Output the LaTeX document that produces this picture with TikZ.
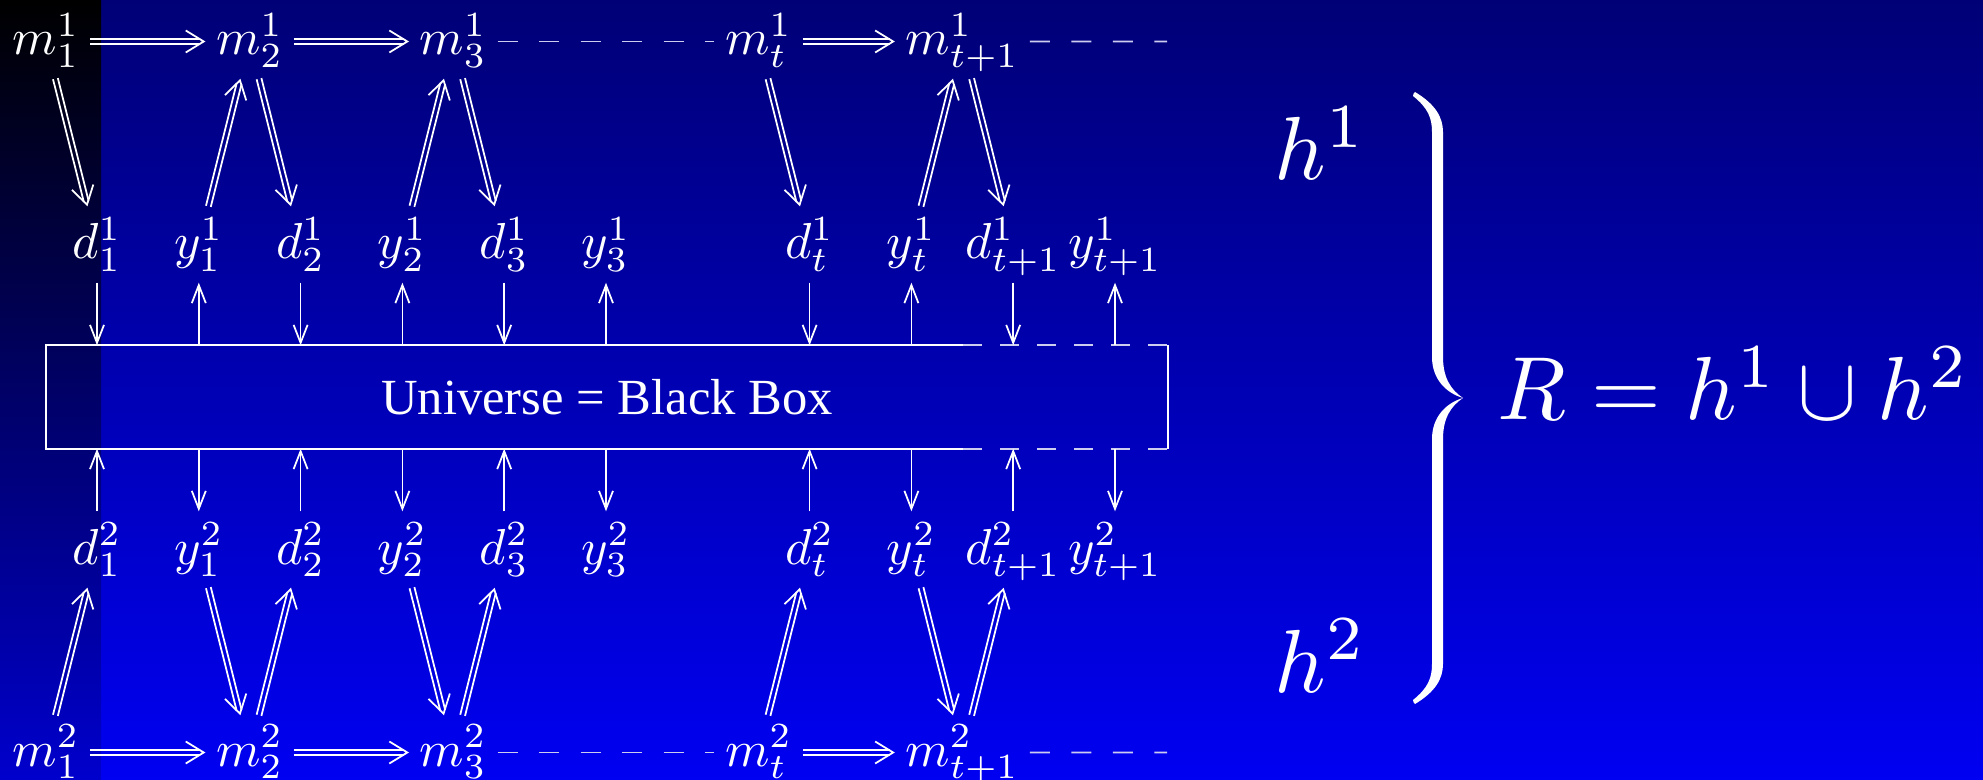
\RequirePackage{fix-cm}
\documentclass[tikz,border=0pt]{standalone}
\usepackage{amsmath}
\usepackage{graphicx}
\usepackage{fontspec}
\newfontfamily\timesfont{Liberation Serif}
\usepackage{tikz}
\usetikzlibrary{arrows.meta, positioning, calc}

\definecolor{bgtop}{RGB}{0,0,118}
\definecolor{bgbot}{RGB}{0,0,242}
\definecolor{stripmid}{RGB}{0,0,92}
\definecolor{stripbot}{RGB}{0,0,205}
\definecolor{dashcol}{RGB}{205,205,240}

% math label at slide scale
\newcommand{\lab}[1]{\scalebox{1.44}{$#1$}}
\newcommand{\biglab}[1]{\scalebox{2.55}{$#1$}}

% double arrow between two named nodes
\newcommand{\dblarrow}[2]{%
  \path (#1) -- coordinate[pos=0] (ds) coordinate[pos=1] (de) (#2);
  \draw[dblline] ($(ds)!0.7pt!90:(de)$) -- ($(de)!0.7pt!-90:(ds)$);
  \draw[dblline] ($(ds)!0.7pt!-90:(de)$) -- ($(de)!0.7pt!90:(ds)$);
  \draw[dbltip] ($(de)!4mm!(ds)$) -- (de);
}

\begin{document}
\begin{tikzpicture}[
  font=\fontsize{10}{12}\selectfont,
  lbl/.style={
    text=white,
    anchor=base,
    inner sep=0.1cm,
    text height=0.42cm,
    text depth=0.13cm
  },
  mlbl/.style={
    text=white,
    anchor=base,
    inner sep=0.1cm,
    text height=0.40cm,
    text depth=0.13cm
  },
  arrow/.style={
    draw=white,
    line width=0.5pt,
    -{Straight Barb[length=1.8mm,width=1.4mm]}
  },
  dblline/.style={
    draw=white,
    line width=0.5pt,
    shorten >=0.5mm
  },
  dbltip/.style={
    draw=white,
    line width=0.5pt,
    dash pattern=on 0pt off 50cm,
    -{Straight Barb[length=1.8mm,width=2.2mm]}
  },
  dashline/.style={
    draw=dashcol,
    line width=0.5pt,
    dash pattern=on 0.2cm off 0.215cm
  },
  boxdash/.style={
    draw=dashcol,
    line width=0.5pt,
    dash pattern=on 0.187cm off 0.183cm
  },
  frame/.style={
    draw=white,
    line width=0.5pt
  },
  big/.style={
    text=white,
    inner sep=0pt
  }
]

% Background and side strip
\shade[top color=bgtop, bottom color=bgbot] (0,0) rectangle (19.83,-7.80);
\shade[top color=black, middle color=stripmid, bottom color=stripbot] (0,0) rectangle (1.01,-7.80);
\useasboundingbox (0,0) rectangle (19.83,-7.80);

% Upper memory chain
\node[mlbl] (m1a) at (0.461,-0.55) {\lab{m_1^1}};
\node[mlbl] (m2a) at (2.497,-0.55) {\lab{m_2^1}};
\node[mlbl] (m3a) at (4.533,-0.55) {\lab{m_3^1}};
\node[mlbl] (mta) at (7.587,-0.55) {\lab{m_t^1}};
\node[mlbl] (mna) at (9.623,-0.55) {\lab{m_{t+1}^1}};
\coordinate (enda) at (11.67,-0.415);

% Upper decisions and outputs
\node[lbl] (d1a) at (0.970,-2.59) {\lab{d_1^1}};
\node[lbl] (y1a) at (1.988,-2.59) {\lab{y_1^1}};
\node[lbl] (d2a) at (3.006,-2.59) {\lab{d_2^1}};
\node[lbl] (y2a) at (4.024,-2.59) {\lab{y_2^1}};
\node[lbl] (d3a) at (5.042,-2.59) {\lab{d_3^1}};
\node[lbl] (y3a) at (6.060,-2.59) {\lab{y_3^1}};
\node[lbl] (dta) at (8.096,-2.59) {\lab{d_t^1}};
\node[lbl] (yta) at (9.114,-2.59) {\lab{y_t^1}};
\node[lbl] (dna) at (10.132,-2.59) {\lab{d_{t+1}^1}};
\node[lbl] (yna) at (11.150,-2.59) {\lab{y_{t+1}^1}};

% Black box
\node[text=white, inner sep=0pt, minimum width=11.20cm, minimum height=1.02cm,
  font=\fontsize{14.4}{17}\selectfont] (box) at (6.07,-3.97)
{\timesfont Universe = Black Box};
\coordinate (cut) at (9.63,-3.97);
\draw[frame] (cut |- box.north) -- (box.north west) -- (box.south west) -- (cut |- box.south);
\draw[frame] (box.north east) -- (box.south east);
\draw[boxdash] (cut |- box.north) -- (box.north east);
\draw[boxdash] (cut |- box.south) -- (box.south east);

% Lower decisions and outputs
\node[lbl] (d1b) at (0.970,-5.64) {\lab{d_1^2}};
\node[lbl] (y1b) at (1.988,-5.64) {\lab{y_1^2}};
\node[lbl] (d2b) at (3.006,-5.64) {\lab{d_2^2}};
\node[lbl] (y2b) at (4.024,-5.64) {\lab{y_2^2}};
\node[lbl] (d3b) at (5.042,-5.64) {\lab{d_3^2}};
\node[lbl] (y3b) at (6.060,-5.64) {\lab{y_3^2}};
\node[lbl] (dtb) at (8.096,-5.64) {\lab{d_t^2}};
\node[lbl] (ytb) at (9.114,-5.64) {\lab{y_t^2}};
\node[lbl] (dnb) at (10.132,-5.64) {\lab{d_{t+1}^2}};
\node[lbl] (ynb) at (11.150,-5.64) {\lab{y_{t+1}^2}};

% Lower memory chain
\node[mlbl] (m1b) at (0.461,-7.66) {\lab{m_1^2}};
\node[mlbl] (m2b) at (2.497,-7.66) {\lab{m_2^2}};
\node[mlbl] (m3b) at (4.533,-7.66) {\lab{m_3^2}};
\node[mlbl] (mtb) at (7.587,-7.66) {\lab{m_t^2}};
\node[mlbl] (mnb) at (9.623,-7.66) {\lab{m_{t+1}^2}};
\coordinate (endb) at (11.67,-7.525);

% Upper single arrows
\draw[arrow] (d1a) -- (d1a |- box.north);
\draw[arrow] (y1a |- box.north) -- (y1a);
\draw[arrow] (d2a) -- (d2a |- box.north);
\draw[arrow] (y2a |- box.north) -- (y2a);
\draw[arrow] (d3a) -- (d3a |- box.north);
\draw[arrow] (y3a |- box.north) -- (y3a);
\draw[arrow] (dta) -- (dta |- box.north);
\draw[arrow] (yta |- box.north) -- (yta);
\draw[arrow] (dna) -- (dna |- box.north);
\draw[arrow] (yna |- box.north) -- (yna);

% Lower single arrows
\draw[arrow] (d1b) -- (d1b |- box.south);
\draw[arrow] (y1b |- box.south) -- (y1b);
\draw[arrow] (d2b) -- (d2b |- box.south);
\draw[arrow] (y2b |- box.south) -- (y2b);
\draw[arrow] (d3b) -- (d3b |- box.south);
\draw[arrow] (y3b |- box.south) -- (y3b);
\draw[arrow] (dtb) -- (dtb |- box.south);
\draw[arrow] (ytb |- box.south) -- (ytb);
\draw[arrow] (dnb) -- (dnb |- box.south);
\draw[arrow] (ynb |- box.south) -- (ynb);

% Upper double arrows
\dblarrow{m1a}{m2a}
\dblarrow{m2a}{m3a}
\dblarrow{mta}{mna}
\dblarrow{m1a}{d1a}
\dblarrow{y1a}{m2a}
\dblarrow{m2a}{d2a}
\dblarrow{y2a}{m3a}
\dblarrow{m3a}{d3a}
\dblarrow{mta}{dta}
\dblarrow{yta}{mna}
\dblarrow{mna}{dna}
\draw[dashline] (m3a) -- (mta);
\draw[dashline] (mna) -- (enda);

% Lower double arrows
\dblarrow{m1b}{m2b}
\dblarrow{m2b}{m3b}
\dblarrow{mtb}{mnb}
\dblarrow{m1b}{d1b}
\dblarrow{y1b}{m2b}
\dblarrow{m2b}{d2b}
\dblarrow{y2b}{m3b}
\dblarrow{m3b}{d3b}
\dblarrow{mtb}{dtb}
\dblarrow{ytb}{mnb}
\dblarrow{mnb}{dnb}
\draw[dashline] (m3b) -- (mtb);
\draw[dashline] (mnb) -- (endb);

% Histories and their union
\node[big, anchor=base west] (h1) at (12.74,-1.80) {\biglab{h^1}};
\node[big, anchor=base west] (h2) at (12.74,-6.92) {\biglab{h^2}};
\node[big, anchor=base west] (union) at (14.97,-4.20) {\biglab{R = h^1 \cup h^2}};

% big brace
\fill[white] (14.15,-0.92) .. controls (14.35,-1.04) and (14.43,-1.17) .. (14.43,-1.32)
  -- (14.43,-3.57) .. controls (14.43,-3.78) and (14.51,-3.90) .. (14.63,-3.98)
  .. controls (14.51,-4.06) and (14.43,-4.18) .. (14.43,-4.39)
  -- (14.43,-6.64) .. controls (14.43,-6.79) and (14.35,-6.92) .. (14.15,-7.04)
  .. controls (14.14,-7.03) and (14.13,-7.02) .. (14.13,-7.00)
  .. controls (14.28,-6.88) and (14.32,-6.78) .. (14.32,-6.64)
  -- (14.32,-4.39) .. controls (14.32,-4.17) and (14.46,-4.03) .. (14.63,-3.98)
  .. controls (14.46,-3.93) and (14.32,-3.79) .. (14.32,-3.57)
  -- (14.32,-1.32) .. controls (14.32,-1.18) and (14.28,-1.08) .. (14.13,-0.96)
  .. controls (14.13,-0.94) and (14.14,-0.93) .. cycle;

\end{tikzpicture}
\end{document}
